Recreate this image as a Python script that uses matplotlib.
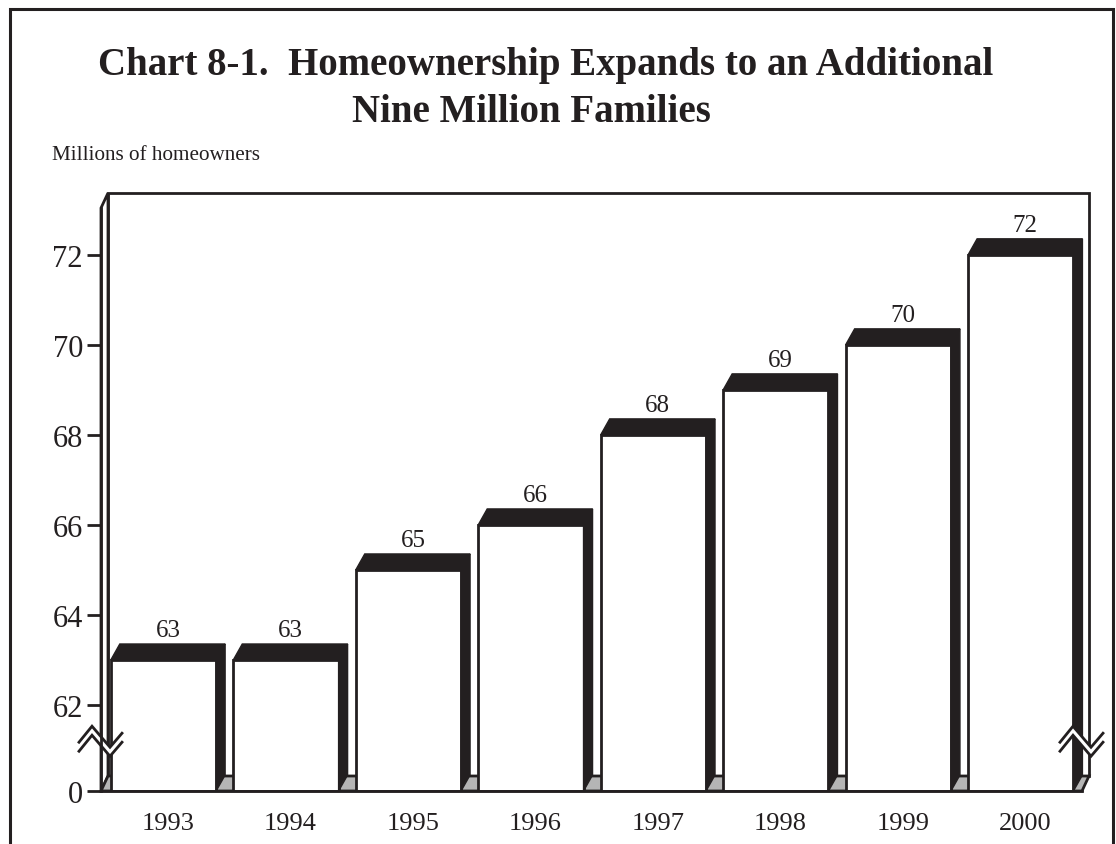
import matplotlib
matplotlib.use("Agg")
import matplotlib.pyplot as plt
from matplotlib.patches import Polygon, Rectangle

# homeowners by year (millions)
years = ['1993', '1994', '1995', '1996', '1997', '1998', '1999', '2000']
owners = [63, 63, 65, 66, 68, 69, 70, 72]
ytick_vals = [62, 64, 66, 68, 70, 72]
ytick_labels = ['62', '64', '66', '68', '70', '72']

# the value axis is broken between 0 and 62, so the floor ("0") sits just under 62
floor = 60.09
top = 73.04

plt.rcParams['font.family'] = ['Liberation Serif', 'DejaVu Serif']
plt.rcParams['hatch.color'] = 'white'
plt.rcParams['hatch.linewidth'] = 1.5

W, H, DPI = 1116, 845, 100
fig = plt.figure(figsize=(W / DPI, H / DPI), dpi=DPI)

# front frame of the plot, in pixels
fl, fr, fb, ft = 101, 1082, 792, 209
ax = fig.add_axes([fl / W, (H - fb) / H, (fr - fl) / W, (fb - ft) / H])
x_lo, x_hi = -0.51, 7.5
ax.set_xlim(x_lo, x_hi)
ax.set_ylim(floor, top)
ax.patch.set_visible(False)

# pixel -> data scale for the 3-D depth offsets
px_x = (x_hi - x_lo) / (fr - fl)
px_y = (top - floor) / (fb - ft)
wdx, wdy = 7 * px_x, 15 * px_y     # walls
bdx, bdy = 9 * px_x, 16 * px_y     # bars

lw = 2
ink = '#231f20'
# back wall
ax.add_patch(Polygon([(x_lo + wdx, floor + wdy), (x_lo + wdx, top + wdy),
                      (x_hi + wdx, top + wdy), (x_hi + wdx, floor + wdy)],
                     closed=True, fc='white', ec=ink, lw=lw, clip_on=False, zorder=1))
# left side wall
ax.add_patch(Polygon([(x_lo, floor), (x_lo, top), (x_lo + wdx, top + wdy),
                      (x_lo + wdx, floor + wdy)],
                     closed=True, fc='white', ec=ink, lw=lw, clip_on=False, zorder=1))
# floor
floor_pts = [(x_lo, floor), (x_hi, floor), (x_hi + wdx, floor + wdy), (x_lo + wdx, floor + wdy)]
ax.add_patch(Polygon(floor_pts, closed=True, fc='#b5b5b5', ec='none', hatch='/',
                     clip_on=False, zorder=1.5))
ax.add_patch(Polygon(floor_pts, closed=True, fill=False, ec=ink, lw=lw,
                     clip_on=False, zorder=1.6))

# bars: white front face, black top and right side
bw = 0.86
xs = list(range(len(years)))
ax.bar(xs, [v - floor for v in owners], bottom=floor, width=bw, color='white',
       edgecolor=ink, linewidth=lw, zorder=3)
for x, v in zip(xs, owners):
    L, R = x - bw / 2, x + bw / 2
    ax.add_patch(Polygon([(L, v), (R, v), (R + bdx, v + bdy), (L + bdx, v + bdy)],
                         closed=True, fc=ink, ec=ink, lw=1, clip_on=False, zorder=3.5))
    ax.add_patch(Polygon([(R, floor), (R, v), (R + bdx, v + bdy), (R + bdx, floor + bdy)],
                         closed=True, fc=ink, ec=ink, lw=1, clip_on=False, zorder=3.5))
    ax.annotate(str(v), (x + bdx / 2, v + bdy), xytext=(0, 2), textcoords='offset points',
                ha='center', va='bottom', fontsize=18, color=ink, zorder=4)

# axis break marks on both front edges
zig = [(-22, -3), (-9, 13), (9, -8), (21, 6)]
for bx in (x_lo, x_hi):
    by = 61.24
    upper = [(bx + dx * px_x, by + dy * px_y) for dx, dy in zig]
    lower = [(bx + dx * px_x, by + (dy - 9) * px_y) for dx, dy in zig]
    ax.add_patch(Polygon(upper + lower[::-1], closed=True, fc='white', ec='none',
                         clip_on=False, zorder=4.5))
    for pts in (upper, lower):
        ax.plot([p[0] for p in pts], [p[1] for p in pts], color=ink, lw=lw,
                clip_on=False, zorder=6, solid_joinstyle='miter')

for side in ('top', 'right'):
    ax.spines[side].set_visible(False)
for side in ('left', 'bottom'):
    ax.spines[side].set_linewidth(lw)
    ax.spines[side].set_color(ink)
    ax.spines[side].set_zorder(5)

ax.set_yticks([floor] + ytick_vals)
ax.set_yticklabels(['0'] + ytick_labels)
ax.tick_params(axis='y', length=10, width=lw, color=ink, labelsize=22,
               pad=3, labelcolor=ink)
# year labels sit under the middle of each bar including its depth
ax.set_xticks([x + bdx / 2 for x in xs])
ax.set_xticklabels(years)
ax.tick_params(axis='x', length=0, labelsize=19, pad=15, labelcolor=ink)

# title and unit label
fig.text(98 / W, 1 - 75 / H, 'Chart 8-1.  Homeownership Expands to an Additional',
         fontsize=28, fontweight='bold', ha='left', va='baseline', color=ink)
fig.text(352 / W, 1 - 122 / H, 'Nine Million Families',
         fontsize=28, fontweight='bold', ha='left', va='baseline', color=ink)
fig.text(52 / W, 1 - 160 / H, 'Millions of homeowners', fontsize=15.2,
         ha='left', va='baseline', color=ink)

# outer frame
fig.patches.append(Rectangle((9.5 / W, -0.05), (1113 - 9.5) / W, 1.05 - 10 / H,
                             transform=fig.transFigure, fill=False, ec=ink, lw=2.2))

fig.savefig('out.png', dpi=DPI)
